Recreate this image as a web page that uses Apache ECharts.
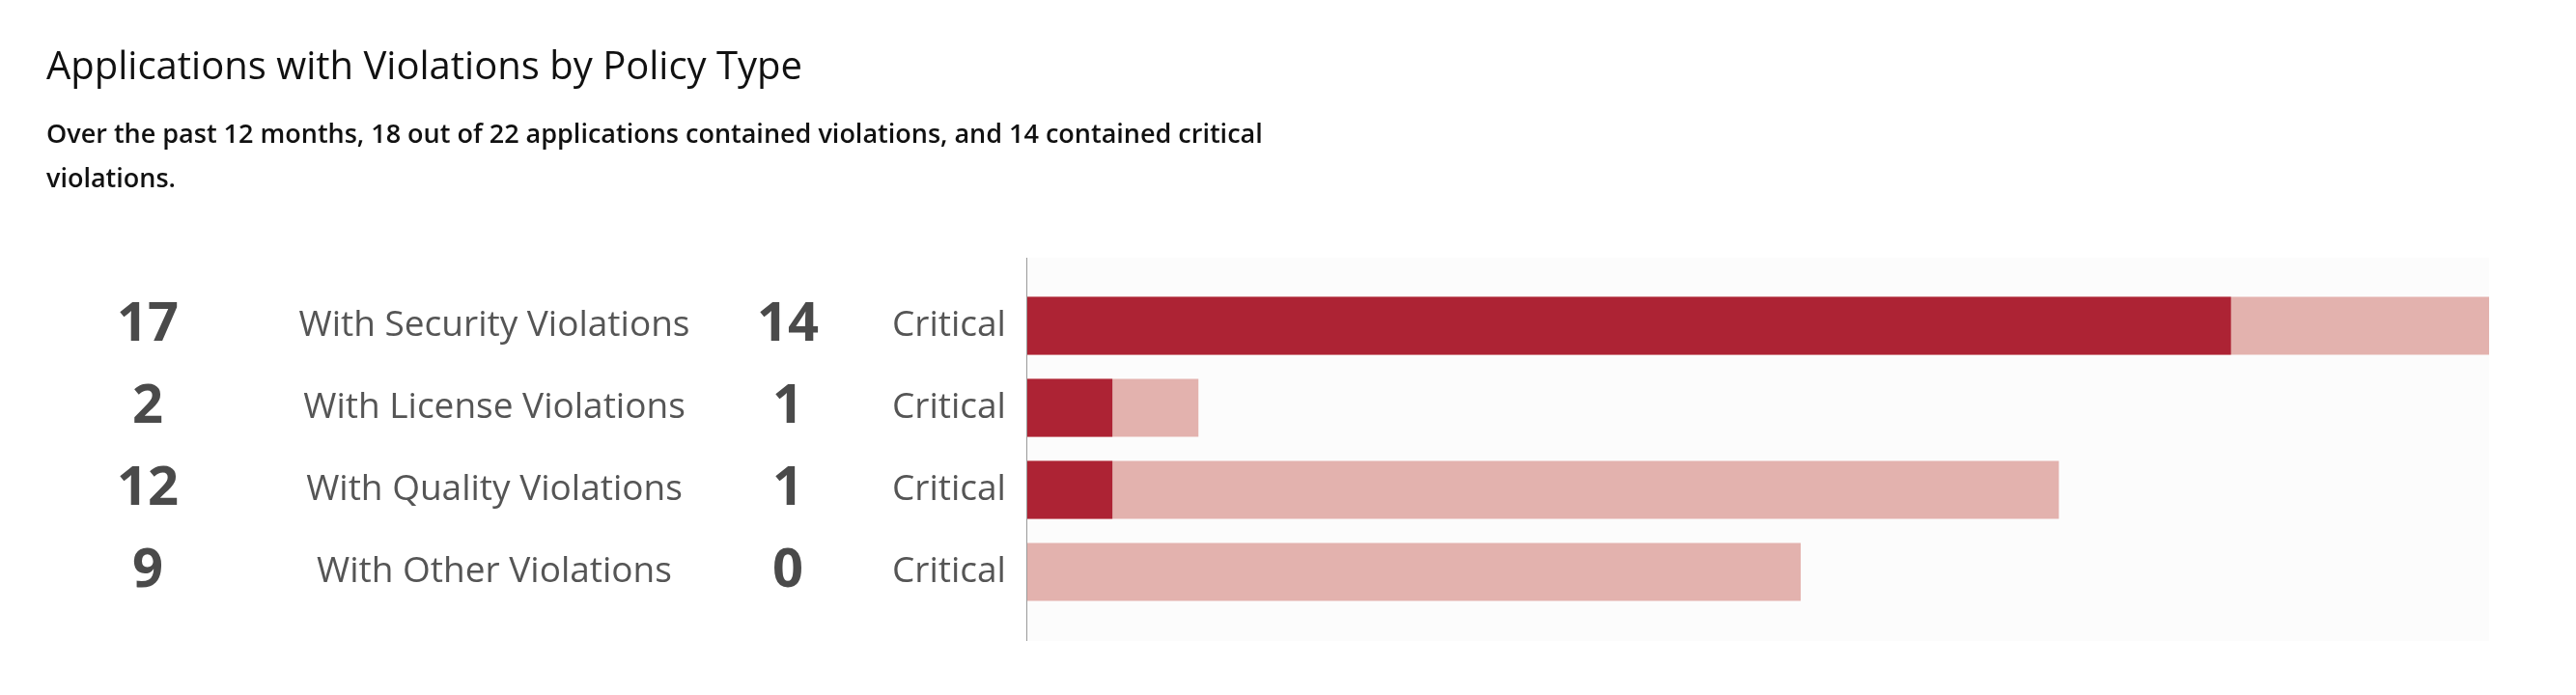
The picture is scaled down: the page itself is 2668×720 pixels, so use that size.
<!DOCTYPE html>
<html><head><meta charset="utf-8">
<script src="https://cdn.jsdelivr.net/npm/echarts@6/dist/echarts.min.js"></script>
<style>html,body{margin:0;padding:0;background:#fff}#c{width:2668px;height:720px}</style>
</head><body><div id="c"></div>
<script>
const categories = ['With Security Violations','With License Violations','With Quality Violations','With Other Violations'];
const totals = [17, 2, 12, 9];
const critical = [14, 1, 1, 0];
const criticalLabel = 'Critical';

const chart = echarts.init(document.getElementById('c'));
const F = '"Open Sans", "Noto Sans", sans-serif';
chart.setOption({
  backgroundColor: '#ffffff',
  animation: false,
  title: {
    text: 'Applications with Violations by Policy Type',
    subtext: 'Over the past 12 months, 18 out of 22 applications contained violations, and 14 contained critical\nviolations.',
    left: 43, top: 46, itemGap: 26,
    textStyle: {fontFamily: F, fontSize: 40, fontWeight: 500, color: '#111'},
    subtextStyle: {fontFamily: F, fontSize: 27, fontWeight: 600, color: '#111', lineHeight: 46}
  },
  graphic: [
    {type: 'rect', shape: {x: 1063, y: 267, width: 1515, height: 397}, style: {fill: '#fcfcfc'}, z: -10},
    {type: 'line', shape: {x1: 1063.5, y1: 267, x2: 1063.5, y2: 664}, style: {stroke: '#9a9a9a', lineWidth: 1}, z: 10}
  ],
  grid: {left: 1063, right: 90, top: 295, bottom: 85},
  xAxis: {type: 'value', min: 0, max: 17, show: false},
  yAxis: {
    type: 'category', inverse: true, data: categories,
    axisLine: {show: false}, axisTick: {show: false},
    axisLabel: {
      margin: 10, align: 'right',
      formatter: (v, i) => `{n|${totals[i]}}{t|${v}}{c|${critical[i]}}{k|${criticalLabel}}`,
      rich: {
        n: {fontFamily: F, fontSize: 56, fontWeight: 700, color: '#4a4a4a', width: 134, align: 'right'},
        t: {fontFamily: F, fontSize: 37, color: '#555', width: 500, align: 'left', padding: [0,0,0,42]},
        c: {fontFamily: F, fontSize: 56, fontWeight: 700, color: '#4a4a4a', width: 108, align: 'right'},
        k: {fontFamily: F, fontSize: 37, color: '#555', width: 140, align: 'left', padding: [0,0,0,43]}
      }
    }
  },
  series: [
    {type: 'bar', data: totals, barWidth: 60, barGap: '-100%', itemStyle: {color: '#e3b2ae'}, silent: true},
    {type: 'bar', data: critical, barWidth: 60, itemStyle: {color: '#ad2334'}, silent: true}
  ]
});
</script></body></html>
